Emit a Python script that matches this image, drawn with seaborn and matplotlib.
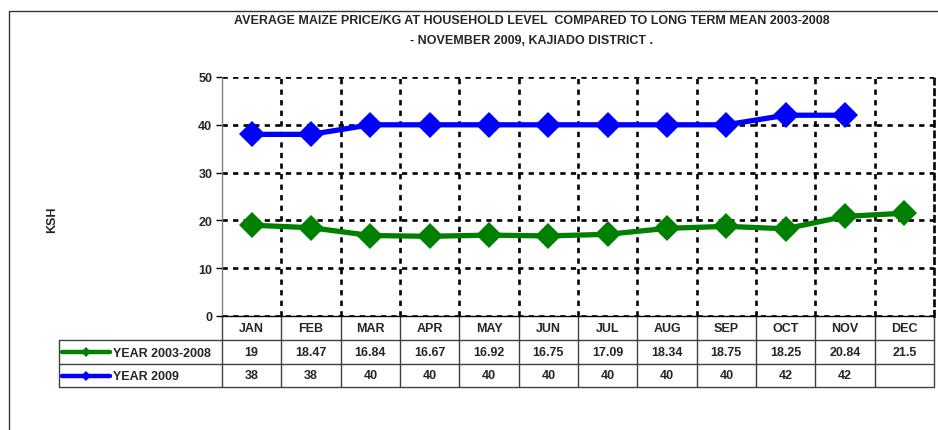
import numpy as np
import pandas as pd
import matplotlib
matplotlib.use('Agg')
import matplotlib.pyplot as plt
import seaborn as sns

# --- dados ---
months = ['JAN', 'FEB', 'MAR', 'APR', 'MAY', 'JUN', 'JUL', 'AUG', 'SEP', 'OCT', 'NOV', 'DEC']
mean_2003_2008 = [19, 18.47, 16.84, 16.67, 16.92, 16.75, 17.09, 18.34, 18.75, 18.25, 20.84, 21.5]
year_2009 = [38, 38, 40, 40, 40, 40, 40, 40, 40, 42, 42, np.nan]
series_names = ['YEAR 2003-2008', 'YEAR 2009']
series_colors = ['#008000', '#0000FF']
y_ticks = [0, 10, 20, 30, 40, 50]

title = ('AVERAGE MAIZE PRICE/KG AT HOUSEHOLD LEVEL  COMPARED TO LONG TERM MEAN 2003-2008\n'
         '- NOVEMBER 2009, KAJIADO DISTRICT .')

df = pd.DataFrame({
    'month': months * 2,
    'price': mean_2003_2008 + year_2009,
    'serie': [series_names[0]] * 12 + [series_names[1]] * 12,
})

sns.set_theme(style='white')
plt.rcParams['font.family'] = ['Liberation Sans', 'DejaVu Sans']
plt.rcParams['font.weight'] = 'bold'
fs = 9

W, H = 938, 431
fig = plt.figure(figsize=(W / 100, H / 100), dpi=100)

# geometria em pixels
left, right, top, bottom = 222, 934, 78, 317
colw = (right - left) / len(months)

# camada de fundo em coordenadas de pixel (moldura + tabela)
bg = fig.add_axes([0, 0, 1, 1])
bg.set_xlim(0, W)
bg.set_ylim(H, 0)
bg.axis('off')

ax = fig.add_axes([left / W, 1 - bottom / H, (right - left) / W, (bottom - top) / H])
ax.set_facecolor('none')

sns.lineplot(data=df, x='month', y='price', hue='serie', palette=series_colors,
             marker='D', markersize=13, markeredgewidth=0, linewidth=3.8,
             legend=False, ax=ax, zorder=5, sort=False)

ax.set_xlim(-0.5, len(months) - 0.5)
ax.set_ylim(0, 50)
ax.set_yticks(y_ticks)
ax.set_yticklabels([str(v) for v in y_ticks], fontsize=fs, fontweight='bold')
ax.set_xticks([])
ax.set_xticks(np.arange(0.5, len(months) - 0.5, 1), minor=True)
ax.set_xlabel('')
ax.set_ylabel('')

dash = (0, (2, 2))
ax.yaxis.grid(True, color='black', linestyle=dash, linewidth=1.9)
ax.xaxis.grid(True, which='minor', color='black', linestyle=dash, linewidth=1.9)
ax.tick_params(axis='y', which='major', left=True, length=4, width=1, color='black', pad=3)
ax.tick_params(axis='x', which='minor', bottom=False, length=0)

ax.spines['top'].set_visible(False)
ax.spines['right'].set_visible(True)
ax.spines['right'].set_color('black')
ax.spines['right'].set_linewidth(1.9)
ax.spines['right'].set_linestyle(dash)
ax.spines['left'].set_color('#808080')
ax.spines['left'].set_linewidth(1)
ax.spines['bottom'].set_color('black')
ax.spines['bottom'].set_linewidth(1)

# titulo e eixo
fig.text(532 / W, 1 - 31 / H, title, ha='center', va='center', fontsize=fs,
         fontweight='bold', linespacing=1.8)
fig.text(52 / W, 1 - 220 / H, 'KSH', rotation=90, ha='center', va='center',
         fontsize=fs, fontweight='bold')

# moldura
bg.plot([9, 9, W], [H, 12, 12], color='#333333', linewidth=1)

# tabela de dados
line_c = '#404040'
row_y = [317, 341, 365, 388]
legend_x = 59
for k in range(len(months) + 1):
    x = left + k * colw
    bg.plot([x, x], [row_y[0], row_y[-1]], color=line_c, linewidth=1)
bg.plot([legend_x, legend_x], [row_y[1], row_y[-1]], color=line_c, linewidth=1)
for y in row_y[1:]:
    bg.plot([legend_x, right], [y, y], color=line_c, linewidth=1)

def fmt(v):
    if pd.isna(v):
        return ''
    return f'{v:g}'

for i, m in enumerate(months):
    cx = left + (i + 0.5) * colw
    bg.text(cx, (row_y[0] + row_y[1]) / 2, m, ha='center', va='center', fontsize=fs, fontweight='bold')
    bg.text(cx, (row_y[1] + row_y[2]) / 2, fmt(mean_2003_2008[i]), ha='center', va='center',
            fontsize=fs, fontweight='bold')
    bg.text(cx, (row_y[2] + row_y[3]) / 2, fmt(year_2009[i]), ha='center', va='center',
            fontsize=fs, fontweight='bold')

for r, (name, col) in enumerate(zip(series_names, series_colors)):
    cy = (row_y[r + 1] + row_y[r + 2]) / 2
    bg.plot([62, 110], [cy, cy], color=col, linewidth=3.2, solid_capstyle='round')
    bg.plot([86], [cy], marker='D', markersize=5.5, color=col, markeredgewidth=0)
    bg.text(113, cy + 1, name, ha='left', va='center', fontsize=fs, fontweight='bold')

fig.savefig('out.png', dpi=100)
